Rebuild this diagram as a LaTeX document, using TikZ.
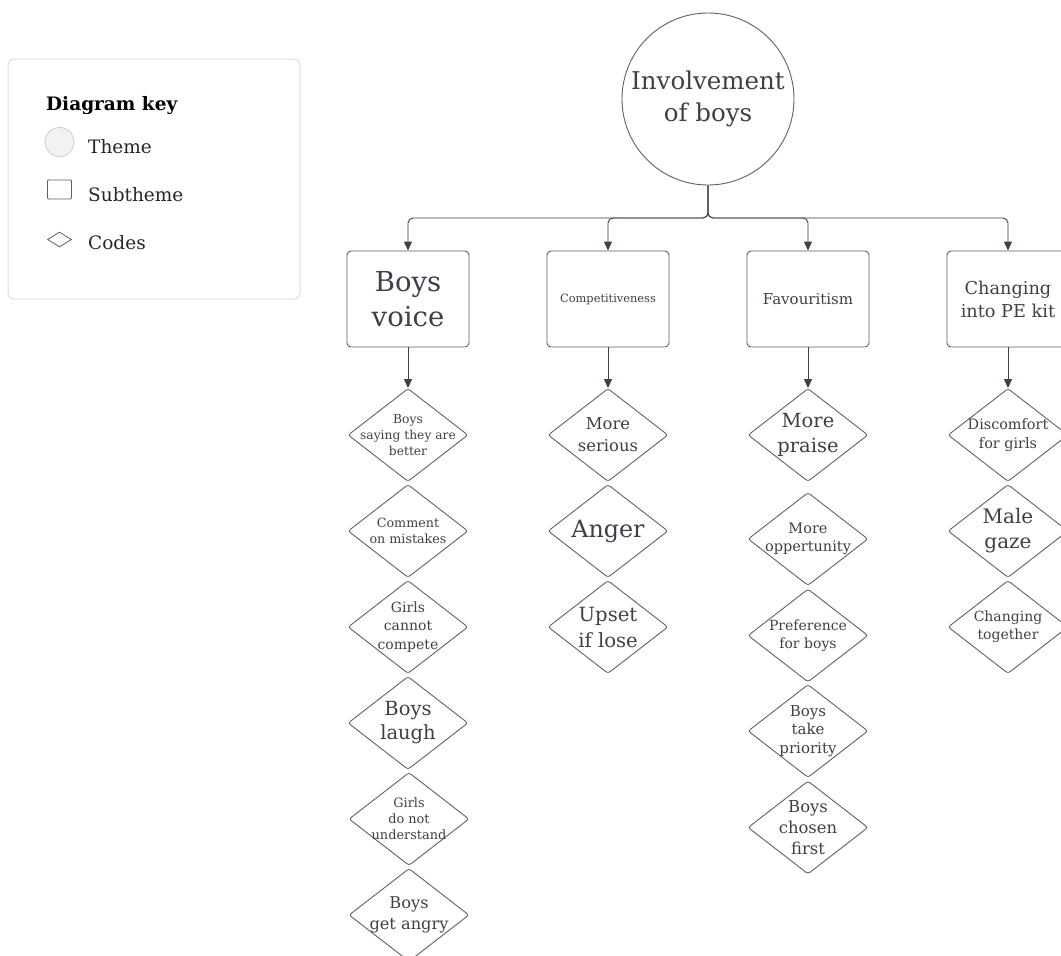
\documentclass[tikz,border=0pt]{standalone}
\usepackage{fontspec}
\setmainfont{DejaVu Serif}
\usetikzlibrary{arrows.meta,shapes.geometric}
\definecolor{ink}{HTML}{3B414A}
\definecolor{edge}{HTML}{5C6169}
\definecolor{keyedge}{HTML}{DADDE2}
\definecolor{keyfill}{HTML}{F1F2F4}
\definecolor{keycircle}{HTML}{C9CDD3}
\newcommand\fsz[2]{\fontsize{#1}{#2}\selectfont}
\begin{document}
\begin{tikzpicture}[x=1pt,y=-1pt,
 theme/.style={circle, draw=edge, line width=0.9pt, minimum size=172pt, inner sep=0, text=ink, align=center},
 subtheme/.style={draw=edge, line width=0.9pt, rounded corners=4pt, minimum width=122pt, minimum height=96pt, inner sep=0, text=ink, align=center},
 code/.style={diamond, draw=edge, line width=0.9pt, rounded corners=2.5pt, minimum width=120pt, minimum height=93pt, inner sep=0},
 codetext/.style={text=ink, align=center, inner sep=0},
 keytext/.style={anchor=base west, text=black!85, font=\fsz{18.5}{22}},
 arr/.style={draw=ink, line width=0.9pt, -{Triangle[length=9pt,width=8pt]}},
]
\useasboundingbox (0,0) rectangle (1061,956);

% legend
\node[draw=keyedge, line width=1pt, rounded corners=6pt, minimum width=292pt, minimum height=240pt, inner sep=0] (key) at (154,179) {};
\node[anchor=base west, inner sep=0, font=\bfseries\fsz{18.5}{22}, text=black] (keytitle) at (46,110) {Diagram key};
\node[circle, draw=keycircle, fill=keyfill, line width=0.8pt, minimum size=29pt, inner sep=0] (kcirc) at (59.5,142) {};
\node[keytext, inner sep=0] (ktheme) at (88,153) {Theme};
\node[draw=edge, line width=0.8pt, rounded corners=1pt, minimum width=24pt, minimum height=19pt, inner sep=0] (krect) at (59.5,189.5) {};
\node[keytext, inner sep=0] (ksub) at (88,201.5) {Subtheme};
\node[diamond, draw=edge, line width=0.8pt, minimum width=24pt, minimum height=15pt, inner sep=0] (kdia) at (59.5,239.5) {};
\node[keytext, inner sep=0] (kcodes) at (88,249) {Codes};

% theme
\node[theme, font=\fsz{24.5}{32}] (top) at (708,99) {Involvement\\of boys};
\coordinate (j) at (708,218);

% subthemes
\node[subtheme, font=\fsz{27.5}{35}] (s1) at (408,299) {Boys\\voice};
\node[subtheme, font=\fsz{11.4}{14}] (s2) at (608,299) {Competitiveness};
\node[subtheme, font=\fsz{15}{18}] (s3) at (808,299) {Favouritism};
\node[subtheme, font=\fsz{17.7}{23}] (s4) at (1008,299) {Changing\\into PE kit};

\foreach \s in {s1,s2,s3,s4}
  \draw[arr, rounded corners=5pt] (top.south) -- (j) -| (\s.north);

% column 1
\node[code] (c11) at (408,435) {};
\node[codetext, font=\fsz{12.3}{16}] (t11) at (c11) {Boys\\saying they are\\better};
\node[code] (c12) at (408,531) {};
\node[codetext, font=\fsz{12.7}{16}] (t12) at (c12) {Comment\\on mistakes};
\node[code] (c13) at (408,627) {};
\node[codetext, font=\fsz{14}{18.3}] (t13) at (c13) {Girls\\cannot\\compete};
\node[code] (c14) at (408,723) {};
\node[codetext, font=\fsz{19.5}{24}] (t14) at (c14) {Boys\\laugh};
\node[code] (c15) at (409,819) {};
\node[codetext, font=\fsz{12.9}{16}] (t15) at (c15) {Girls\\do not\\understand};
\node[code] (c16) at (409,915) {};
\node[codetext, font=\fsz{16.2}{21.7}] (t16) at (c16) {Boys\\get angry};

% column 2
\node[code] (c21) at (608,435) {};
\node[codetext, font=\fsz{16.4}{22}] (t21) at (c21) {More\\serious};
\node[code] (c22) at (608,531) {};
\node[codetext, font=\fsz{23.8}{28}] (t22) at (c22) {Anger};
\node[code] (c23) at (608,627) {};
\node[codetext, font=\fsz{19.6}{26}] (t23) at (c23) {Upset\\if lose};

% column 3
\node[code] (c31) at (808,435) {};
\node[codetext, font=\fsz{19.5}{25}] (t31) at (c31) {More\\praise};
\node[code] (c32) at (808,539) {};
\node[codetext, font=\fsz{14.5}{18}] (t32) at (c32) {More\\oppertunity};
\node[code] (c33) at (808,635.5) {};
\node[codetext, font=\fsz{14}{18}] (t33) at (c33) {Preference\\for boys};
\node[code] (c34) at (808,731) {};
\node[codetext, font=\fsz{15}{18.3}] (t34) at (c34) {Boys\\take\\priority};
\node[code] (c35) at (808,827.5) {};
\node[codetext, font=\fsz{16.4}{21}] (t35) at (c35) {Boys\\chosen\\first};

% column 4
\node[code] (c41) at (1008,435) {};
\node[codetext, font=\fsz{14.4}{18.3}] (t41) at (c41) {Discomfort\\for girls};
\node[code] (c42) at (1008,531) {};
\node[codetext, font=\fsz{20}{25}] (t42) at (c42) {Male\\gaze};
\node[code] (c43) at (1008,627) {};
\node[codetext, font=\fsz{14}{18.3}] (t43) at (c43) {Changing\\together};

% subtheme to first code
\draw[arr] (s1.south) -- (c11.north);
\draw[arr] (s2.south) -- (c21.north);
\draw[arr] (s3.south) -- (c31.north);
\draw[arr] (s4.south) -- (c41.north);
\end{tikzpicture}
\end{document}
